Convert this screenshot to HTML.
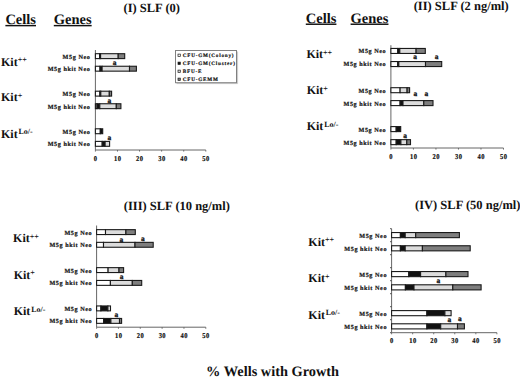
<!DOCTYPE html><html><head><meta charset="utf-8"><style>
html,body{margin:0;padding:0;background:#fff;}
body{width:520px;height:378px;overflow:hidden;}
svg{display:block;}
text{font-family:"Liberation Serif", serif;font-weight:bold;fill:#111;text-rendering:geometricPrecision;}
.t{font-size:12.5px;}.h{font-size:14.5px;text-decoration:underline;}
.k{font-size:12px;}.sup{font-size:8px;}
.g{font-size:6.2px;letter-spacing:0.55px;stroke:#111;stroke-width:0.2px;}.n{font-size:7.4px;letter-spacing:0.55px;stroke:#111;stroke-width:0.2px;}
.lg{font-size:5.2px;letter-spacing:0.78px;stroke:#111;stroke-width:0.18px;}.a{font-size:7.4px;stroke:#111;stroke-width:0.3px;}
</style></head><body>
<svg width="520" height="378" viewBox="0 0 520 378">
<text class="t" x="123.5" y="11.6">(I) SLF (0)</text>
<text class="h" x="5.4" y="23.9">Cells</text>
<text class="h" x="53.8" y="23.9">Genes</text>
<text class="k" x="1" y="65.5">Kit<tspan class="sup" dx="0" dy="-3.4">++</tspan></text>
<text class="k" x="1" y="101.2">Kit<tspan class="sup" dx="0" dy="-3.4">+</tspan></text>
<text class="k" x="1" y="137.5">Kit<tspan class="sup" dx="0.8" dy="-3.3">Lo/-</tspan></text>
<path d="M95.4 50V150H205.8" fill="none" stroke="#666" stroke-width="1"/>
<path d="M95.4 150v1.6" stroke="#555" stroke-width="0.8"/>
<text class="n" transform="translate(95.65 160.55) scale(0.88 1)" text-anchor="middle">0</text>
<path d="M117.48 150v1.6" stroke="#555" stroke-width="0.8"/>
<text class="n" transform="translate(117.73 160.55) scale(0.88 1)" text-anchor="middle">10</text>
<path d="M139.56 150v1.6" stroke="#555" stroke-width="0.8"/>
<text class="n" transform="translate(139.81 160.55) scale(0.88 1)" text-anchor="middle">20</text>
<path d="M161.64 150v1.6" stroke="#555" stroke-width="0.8"/>
<text class="n" transform="translate(161.89 160.55) scale(0.88 1)" text-anchor="middle">30</text>
<path d="M183.72 150v1.6" stroke="#555" stroke-width="0.8"/>
<text class="n" transform="translate(183.97 160.55) scale(0.88 1)" text-anchor="middle">40</text>
<path d="M205.8 150v1.6" stroke="#555" stroke-width="0.8"/>
<text class="n" transform="translate(206.05 160.55) scale(0.88 1)" text-anchor="middle">50</text>
<rect x="95.4" y="53.7" width="4.2" height="4.9" fill="#ffffff" stroke="#1a1a1a" stroke-width="1.1"/>
<rect x="99.6" y="53.7" width="1" height="4.9" fill="#111111" stroke="#1a1a1a" stroke-width="1.1"/>
<rect x="100.6" y="53.7" width="17.6" height="4.9" fill="#dcdcdc" stroke="#1a1a1a" stroke-width="1.1"/>
<rect x="118.2" y="53.7" width="6.5" height="4.9" fill="#7e7e7e" stroke="#1a1a1a" stroke-width="1.1"/>
<text class="g" x="90.35" y="58.55" text-anchor="end">M5g Neo</text>
<rect x="95.4" y="66.25" width="4.6" height="4.9" fill="#ffffff" stroke="#1a1a1a" stroke-width="1.1"/>
<rect x="100" y="66.25" width="2.1" height="4.9" fill="#111111" stroke="#1a1a1a" stroke-width="1.1"/>
<rect x="102.1" y="66.25" width="27.4" height="4.9" fill="#dcdcdc" stroke="#1a1a1a" stroke-width="1.1"/>
<rect x="129.5" y="66.25" width="6.9" height="4.9" fill="#7e7e7e" stroke="#1a1a1a" stroke-width="1.1"/>
<text class="g" x="90.35" y="71.1" text-anchor="end">M5g hkit Neo</text>
<rect x="95.4" y="91.2" width="4.5" height="4.9" fill="#ffffff" stroke="#1a1a1a" stroke-width="1.1"/>
<rect x="99.9" y="91.2" width="0.9" height="4.9" fill="#111111" stroke="#1a1a1a" stroke-width="1.1"/>
<rect x="100.8" y="91.2" width="8.5" height="4.9" fill="#dcdcdc" stroke="#1a1a1a" stroke-width="1.1"/>
<rect x="109.3" y="91.2" width="2.3" height="4.9" fill="#7e7e7e" stroke="#1a1a1a" stroke-width="1.1"/>
<text class="g" x="90.35" y="96.05" text-anchor="end">M5g Neo</text>
<rect x="95.4" y="103.75" width="1.6" height="4.9" fill="#ffffff" stroke="#1a1a1a" stroke-width="1.1"/>
<rect x="97" y="103.75" width="2.8" height="4.9" fill="#111111" stroke="#1a1a1a" stroke-width="1.1"/>
<rect x="99.8" y="103.75" width="16.5" height="4.9" fill="#dcdcdc" stroke="#1a1a1a" stroke-width="1.1"/>
<rect x="116.3" y="103.75" width="4.6" height="4.9" fill="#7e7e7e" stroke="#1a1a1a" stroke-width="1.1"/>
<text class="g" x="90.35" y="108.6" text-anchor="end">M5g hkit Neo</text>
<rect x="95.4" y="128.8" width="4.9" height="4.9" fill="#ffffff" stroke="#1a1a1a" stroke-width="1.1"/>
<rect x="100.3" y="128.8" width="2.4" height="4.9" fill="#111111" stroke="#1a1a1a" stroke-width="1.1"/>
<text class="g" x="90.35" y="133.65" text-anchor="end">M5g Neo</text>
<rect x="95.4" y="141.4" width="6.8" height="4.9" fill="#ffffff" stroke="#1a1a1a" stroke-width="1.1"/>
<rect x="102.2" y="141.4" width="2.9" height="4.9" fill="#111111" stroke="#1a1a1a" stroke-width="1.1"/>
<rect x="105.1" y="141.4" width="4.5" height="4.9" fill="#dcdcdc" stroke="#1a1a1a" stroke-width="1.1"/>
<text class="g" x="90.35" y="146.25" text-anchor="end">M5g hkit Neo</text>
<text class="a" x="114.5" y="65.35" text-anchor="middle">a</text>
<text class="a" x="109.3" y="102.55" text-anchor="middle">a</text>
<text class="a" x="109.4" y="140.15" text-anchor="middle">a</text>
<text class="t" x="413.7" y="10">(II) SLF (2 ng/ml)</text>
<text class="h" x="305.8" y="22.5">Cells</text>
<text class="h" x="350.6" y="22.5">Genes</text>
<text class="k" x="306.4" y="58.2">Kit<tspan class="sup" dx="0" dy="-3.4">++</tspan></text>
<text class="k" x="306.7" y="94.3">Kit<tspan class="sup" dx="0" dy="-3.4">+</tspan></text>
<text class="k" x="306.7" y="130.4">Kit<tspan class="sup" dx="0.8" dy="-3.3">Lo/-</tspan></text>
<path d="M390.9 45.2V148H503.5" fill="none" stroke="#666" stroke-width="1"/>
<path d="M390.9 148v1.6" stroke="#555" stroke-width="0.8"/>
<text class="n" transform="translate(391.15 158.65) scale(0.88 1)" text-anchor="middle">0</text>
<path d="M413.42 148v1.6" stroke="#555" stroke-width="0.8"/>
<text class="n" transform="translate(413.67 158.65) scale(0.88 1)" text-anchor="middle">10</text>
<path d="M435.94 148v1.6" stroke="#555" stroke-width="0.8"/>
<text class="n" transform="translate(436.19 158.65) scale(0.88 1)" text-anchor="middle">20</text>
<path d="M458.46 148v1.6" stroke="#555" stroke-width="0.8"/>
<text class="n" transform="translate(458.71 158.65) scale(0.88 1)" text-anchor="middle">30</text>
<path d="M480.98 148v1.6" stroke="#555" stroke-width="0.8"/>
<text class="n" transform="translate(481.23 158.65) scale(0.88 1)" text-anchor="middle">40</text>
<path d="M503.5 148v1.6" stroke="#555" stroke-width="0.8"/>
<text class="n" transform="translate(503.75 158.65) scale(0.88 1)" text-anchor="middle">50</text>
<rect x="390.9" y="48.45" width="6.9" height="5" fill="#ffffff" stroke="#1a1a1a" stroke-width="1.1"/>
<rect x="397.8" y="48.45" width="2" height="5" fill="#111111" stroke="#1a1a1a" stroke-width="1.1"/>
<rect x="399.8" y="48.45" width="16.3" height="5" fill="#dcdcdc" stroke="#1a1a1a" stroke-width="1.1"/>
<rect x="416.1" y="48.45" width="9.2" height="5" fill="#7e7e7e" stroke="#1a1a1a" stroke-width="1.1"/>
<text class="g" x="386.25" y="53.35" text-anchor="end">M5g Neo</text>
<rect x="390.9" y="61.55" width="6.9" height="5" fill="#ffffff" stroke="#1a1a1a" stroke-width="1.1"/>
<rect x="397.8" y="61.55" width="1" height="5" fill="#111111" stroke="#1a1a1a" stroke-width="1.1"/>
<rect x="398.8" y="61.55" width="26.7" height="5" fill="#dcdcdc" stroke="#1a1a1a" stroke-width="1.1"/>
<rect x="425.5" y="61.55" width="16.2" height="5" fill="#7e7e7e" stroke="#1a1a1a" stroke-width="1.1"/>
<text class="g" x="386.25" y="66.45" text-anchor="end">M5g hkit Neo</text>
<rect x="390.9" y="87.7" width="9.2" height="5" fill="#ffffff" stroke="#1a1a1a" stroke-width="1.1"/>
<rect x="400.1" y="87.7" width="7" height="5" fill="#dcdcdc" stroke="#1a1a1a" stroke-width="1.1"/>
<rect x="407.1" y="87.7" width="2.5" height="5" fill="#7e7e7e" stroke="#1a1a1a" stroke-width="1.1"/>
<text class="g" x="386.25" y="92.6" text-anchor="end">M5g Neo</text>
<rect x="390.9" y="100.6" width="9.2" height="5" fill="#ffffff" stroke="#1a1a1a" stroke-width="1.1"/>
<rect x="400.1" y="100.6" width="2.9" height="5" fill="#111111" stroke="#1a1a1a" stroke-width="1.1"/>
<rect x="403" y="100.6" width="20.8" height="5" fill="#dcdcdc" stroke="#1a1a1a" stroke-width="1.1"/>
<rect x="423.8" y="100.6" width="9.2" height="5" fill="#7e7e7e" stroke="#1a1a1a" stroke-width="1.1"/>
<text class="g" x="386.25" y="105.5" text-anchor="end">M5g hkit Neo</text>
<rect x="390.9" y="126.6" width="5.3" height="5" fill="#ffffff" stroke="#1a1a1a" stroke-width="1.1"/>
<rect x="396.2" y="126.6" width="4.5" height="5" fill="#111111" stroke="#1a1a1a" stroke-width="1.1"/>
<text class="g" x="386.25" y="131.5" text-anchor="end">M5g Neo</text>
<rect x="390.9" y="139.65" width="5.3" height="5" fill="#ffffff" stroke="#1a1a1a" stroke-width="1.1"/>
<rect x="396.2" y="139.65" width="4.7" height="5" fill="#111111" stroke="#1a1a1a" stroke-width="1.1"/>
<rect x="400.9" y="139.65" width="5.9" height="5" fill="#dcdcdc" stroke="#1a1a1a" stroke-width="1.1"/>
<rect x="406.8" y="139.65" width="3.7" height="5" fill="#7e7e7e" stroke="#1a1a1a" stroke-width="1.1"/>
<text class="g" x="386.25" y="144.55" text-anchor="end">M5g hkit Neo</text>
<text class="a" x="415.1" y="59.05" text-anchor="middle">a</text>
<text class="a" x="436.5" y="59.05" text-anchor="middle">a</text>
<text class="a" x="415.4" y="96.35" text-anchor="middle">a</text>
<text class="a" x="426.4" y="96.35" text-anchor="middle">a</text>
<text class="a" x="405.2" y="138.15" text-anchor="middle">a</text>
<text class="t" x="123.75" y="209.5">(III) SLF (10 ng/ml)</text>
<text class="k" x="13.1" y="242.4">Kit<tspan class="sup" dx="0" dy="-3.4">++</tspan></text>
<text class="k" x="13.7" y="278.7">Kit<tspan class="sup" dx="0" dy="-3.4">+</tspan></text>
<text class="k" x="13.7" y="314.8">Kit<tspan class="sup" dx="0.8" dy="-3.3">Lo/-</tspan></text>
<path d="M96.6 225.5V327.2H205.8" fill="none" stroke="#666" stroke-width="1"/>
<path d="M96.6 327.2v1.6" stroke="#555" stroke-width="0.8"/>
<text class="n" transform="translate(96.85 337.95) scale(0.88 1)" text-anchor="middle">0</text>
<path d="M118.44 327.2v1.6" stroke="#555" stroke-width="0.8"/>
<text class="n" transform="translate(118.69 337.95) scale(0.88 1)" text-anchor="middle">10</text>
<path d="M140.28 327.2v1.6" stroke="#555" stroke-width="0.8"/>
<text class="n" transform="translate(140.53 337.95) scale(0.88 1)" text-anchor="middle">20</text>
<path d="M162.12 327.2v1.6" stroke="#555" stroke-width="0.8"/>
<text class="n" transform="translate(162.37 337.95) scale(0.88 1)" text-anchor="middle">30</text>
<path d="M183.96 327.2v1.6" stroke="#555" stroke-width="0.8"/>
<text class="n" transform="translate(184.21 337.95) scale(0.88 1)" text-anchor="middle">40</text>
<path d="M205.8 327.2v1.6" stroke="#555" stroke-width="0.8"/>
<text class="n" transform="translate(206.05 337.95) scale(0.88 1)" text-anchor="middle">50</text>
<rect x="96.6" y="229.65" width="8.9" height="4.9" fill="#ffffff" stroke="#1a1a1a" stroke-width="1.1"/>
<rect x="105.5" y="229.65" width="20.4" height="4.9" fill="#dcdcdc" stroke="#1a1a1a" stroke-width="1.1"/>
<rect x="125.9" y="229.65" width="9.4" height="4.9" fill="#7e7e7e" stroke="#1a1a1a" stroke-width="1.1"/>
<text class="g" x="92.15" y="234.5" text-anchor="end">M5g Neo</text>
<rect x="96.6" y="242.35" width="6.9" height="4.9" fill="#ffffff" stroke="#1a1a1a" stroke-width="1.1"/>
<rect x="103.5" y="242.35" width="31.5" height="4.9" fill="#dcdcdc" stroke="#1a1a1a" stroke-width="1.1"/>
<rect x="135" y="242.35" width="18.2" height="4.9" fill="#7e7e7e" stroke="#1a1a1a" stroke-width="1.1"/>
<text class="g" x="92.15" y="247.2" text-anchor="end">M5g hkit Neo</text>
<rect x="96.6" y="267.65" width="11.5" height="4.9" fill="#ffffff" stroke="#1a1a1a" stroke-width="1.1"/>
<rect x="108.1" y="267.65" width="10.9" height="4.9" fill="#dcdcdc" stroke="#1a1a1a" stroke-width="1.1"/>
<rect x="119" y="267.65" width="4.6" height="4.9" fill="#7e7e7e" stroke="#1a1a1a" stroke-width="1.1"/>
<text class="g" x="92.15" y="272.5" text-anchor="end">M5g Neo</text>
<rect x="96.6" y="280.45" width="13.8" height="4.9" fill="#ffffff" stroke="#1a1a1a" stroke-width="1.1"/>
<rect x="110.4" y="280.45" width="21.9" height="4.9" fill="#dcdcdc" stroke="#1a1a1a" stroke-width="1.1"/>
<rect x="132.3" y="280.45" width="9.4" height="4.9" fill="#7e7e7e" stroke="#1a1a1a" stroke-width="1.1"/>
<text class="g" x="92.15" y="285.3" text-anchor="end">M5g hkit Neo</text>
<rect x="96.6" y="305.95" width="4.3" height="4.9" fill="#ffffff" stroke="#1a1a1a" stroke-width="1.1"/>
<rect x="100.9" y="305.95" width="7" height="4.9" fill="#111111" stroke="#1a1a1a" stroke-width="1.1"/>
<rect x="107.9" y="305.95" width="2.6" height="4.9" fill="#dcdcdc" stroke="#1a1a1a" stroke-width="1.1"/>
<text class="g" x="92.15" y="310.8" text-anchor="end">M5g Neo</text>
<rect x="96.6" y="318.45" width="7.1" height="4.9" fill="#ffffff" stroke="#1a1a1a" stroke-width="1.1"/>
<rect x="103.7" y="318.45" width="7.2" height="4.9" fill="#111111" stroke="#1a1a1a" stroke-width="1.1"/>
<rect x="110.9" y="318.45" width="8.6" height="4.9" fill="#dcdcdc" stroke="#1a1a1a" stroke-width="1.1"/>
<rect x="119.5" y="318.45" width="2.1" height="4.9" fill="#7e7e7e" stroke="#1a1a1a" stroke-width="1.1"/>
<text class="g" x="92.15" y="323.3" text-anchor="end">M5g hkit Neo</text>
<text class="a" x="121.3" y="241.75" text-anchor="middle">a</text>
<text class="a" x="142.9" y="241.35" text-anchor="middle">a</text>
<text class="a" x="121.7" y="279.25" text-anchor="middle">a</text>
<text class="a" x="116.4" y="317.25" text-anchor="middle">a</text>
<text class="t" x="415" y="208.9">(IV) SLF (50 ng/ml)</text>
<text class="k" x="308.3" y="245.8">Kit<tspan class="sup" dx="0" dy="-3.4">++</tspan></text>
<text class="k" x="308.3" y="282.1">Kit<tspan class="sup" dx="0" dy="-3.4">+</tspan></text>
<text class="k" x="308.3" y="318.7">Kit<tspan class="sup" dx="0.8" dy="-3.3">Lo/-</tspan></text>
<path d="M391.6 228.7V332.7H496.9" fill="none" stroke="#666" stroke-width="1"/>
<path d="M390 228.7H391.6" stroke="#444" stroke-width="0.9"/>
<path d="M390 241.7H391.6" stroke="#444" stroke-width="0.9"/>
<path d="M390 254.7H391.6" stroke="#444" stroke-width="0.9"/>
<path d="M390 267.7H391.6" stroke="#444" stroke-width="0.9"/>
<path d="M390 280.7H391.6" stroke="#444" stroke-width="0.9"/>
<path d="M390 293.7H391.6" stroke="#444" stroke-width="0.9"/>
<path d="M390 306.7H391.6" stroke="#444" stroke-width="0.9"/>
<path d="M390 319.7H391.6" stroke="#444" stroke-width="0.9"/>
<path d="M390 332.7H391.6" stroke="#444" stroke-width="0.9"/>
<path d="M391.6 332.7v1.6" stroke="#555" stroke-width="0.8"/>
<text class="n" transform="translate(391.85 342.95) scale(0.88 1)" text-anchor="middle">0</text>
<path d="M412.66 332.7v1.6" stroke="#555" stroke-width="0.8"/>
<text class="n" transform="translate(412.91 342.95) scale(0.88 1)" text-anchor="middle">10</text>
<path d="M433.72 332.7v1.6" stroke="#555" stroke-width="0.8"/>
<text class="n" transform="translate(433.97 342.95) scale(0.88 1)" text-anchor="middle">20</text>
<path d="M454.78 332.7v1.6" stroke="#555" stroke-width="0.8"/>
<text class="n" transform="translate(455.03 342.95) scale(0.88 1)" text-anchor="middle">30</text>
<path d="M475.84 332.7v1.6" stroke="#555" stroke-width="0.8"/>
<text class="n" transform="translate(476.09 342.95) scale(0.88 1)" text-anchor="middle">40</text>
<path d="M496.9 332.7v1.6" stroke="#555" stroke-width="0.8"/>
<text class="n" transform="translate(497.15 342.95) scale(0.88 1)" text-anchor="middle">50</text>
<rect x="391.6" y="232.55" width="8.8" height="5.1" fill="#ffffff" stroke="#1a1a1a" stroke-width="1.1"/>
<rect x="400.4" y="232.55" width="4.8" height="5.1" fill="#111111" stroke="#1a1a1a" stroke-width="1.1"/>
<rect x="405.2" y="232.55" width="10.5" height="5.1" fill="#dcdcdc" stroke="#1a1a1a" stroke-width="1.1"/>
<rect x="415.7" y="232.55" width="43.7" height="5.1" fill="#7e7e7e" stroke="#1a1a1a" stroke-width="1.1"/>
<text class="g" x="387.05" y="237.5" text-anchor="end">M5g Neo</text>
<rect x="391.6" y="245.75" width="8.8" height="5.1" fill="#ffffff" stroke="#1a1a1a" stroke-width="1.1"/>
<rect x="400.4" y="245.75" width="4.8" height="5.1" fill="#111111" stroke="#1a1a1a" stroke-width="1.1"/>
<rect x="405.2" y="245.75" width="17.2" height="5.1" fill="#dcdcdc" stroke="#1a1a1a" stroke-width="1.1"/>
<rect x="422.4" y="245.75" width="47.8" height="5.1" fill="#7e7e7e" stroke="#1a1a1a" stroke-width="1.1"/>
<text class="g" x="387.05" y="250.7" text-anchor="end">M5g hkit Neo</text>
<rect x="391.6" y="271.55" width="17.2" height="5.1" fill="#ffffff" stroke="#1a1a1a" stroke-width="1.1"/>
<rect x="408.8" y="271.55" width="11.8" height="5.1" fill="#111111" stroke="#1a1a1a" stroke-width="1.1"/>
<rect x="420.6" y="271.55" width="25.3" height="5.1" fill="#dcdcdc" stroke="#1a1a1a" stroke-width="1.1"/>
<rect x="445.9" y="271.55" width="22.1" height="5.1" fill="#7e7e7e" stroke="#1a1a1a" stroke-width="1.1"/>
<text class="g" x="387.05" y="276.5" text-anchor="end">M5g Neo</text>
<rect x="391.6" y="284.8" width="13.8" height="5.1" fill="#ffffff" stroke="#1a1a1a" stroke-width="1.1"/>
<rect x="405.4" y="284.8" width="8.6" height="5.1" fill="#111111" stroke="#1a1a1a" stroke-width="1.1"/>
<rect x="414" y="284.8" width="38.8" height="5.1" fill="#dcdcdc" stroke="#1a1a1a" stroke-width="1.1"/>
<rect x="452.8" y="284.8" width="28.3" height="5.1" fill="#7e7e7e" stroke="#1a1a1a" stroke-width="1.1"/>
<text class="g" x="387.05" y="289.75" text-anchor="end">M5g hkit Neo</text>
<rect x="391.6" y="310.6" width="35.3" height="5.1" fill="#ffffff" stroke="#1a1a1a" stroke-width="1.1"/>
<rect x="426.9" y="310.6" width="18" height="5.1" fill="#111111" stroke="#1a1a1a" stroke-width="1.1"/>
<rect x="444.9" y="310.6" width="6.2" height="5.1" fill="#dcdcdc" stroke="#1a1a1a" stroke-width="1.1"/>
<text class="g" x="387.05" y="315.55" text-anchor="end">M5g Neo</text>
<rect x="391.6" y="323.8" width="35.3" height="5.1" fill="#ffffff" stroke="#1a1a1a" stroke-width="1.1"/>
<rect x="426.9" y="323.8" width="13.8" height="5.1" fill="#111111" stroke="#1a1a1a" stroke-width="1.1"/>
<rect x="440.7" y="323.8" width="16.8" height="5.1" fill="#dcdcdc" stroke="#1a1a1a" stroke-width="1.1"/>
<rect x="457.5" y="323.8" width="6.9" height="5.1" fill="#7e7e7e" stroke="#1a1a1a" stroke-width="1.1"/>
<text class="g" x="387.05" y="328.75" text-anchor="end">M5g hkit Neo</text>
<text class="a" x="438.4" y="282.95" text-anchor="middle">a</text>
<text class="a" x="449.4" y="321.85" text-anchor="middle">a</text>
<text class="a" x="459.8" y="320.95" text-anchor="middle">a</text>
<path d="M237.6 51.5V83.6H176.5" fill="none" stroke="#c8c8c8" stroke-width="1"/>
<rect x="175.5" y="50.5" width="61" height="32.2" fill="#fff" stroke="#808080" stroke-width="1"/>
<rect x="178.0" y="54.1" width="2.3" height="2.4" fill="#ffffff" stroke="#1a1a1a" stroke-width="0.7"/>
<text class="lg" x="182.8" y="57">CFU-GM(Colony)</text>
<rect x="178.0" y="62.1" width="2.3" height="2.4" fill="#111111" stroke="#1a1a1a" stroke-width="0.7"/>
<text class="lg" x="182.8" y="65">CFU-GM(Cluster)</text>
<rect x="178.0" y="70.1" width="2.3" height="2.4" fill="#dcdcdc" stroke="#1a1a1a" stroke-width="0.7"/>
<text class="lg" x="182.8" y="73">BFU-E</text>
<rect x="178.0" y="78.1" width="2.3" height="2.4" fill="#7e7e7e" stroke="#1a1a1a" stroke-width="0.7"/>
<text class="lg" x="182.8" y="81">CFU-GEMM</text>
<text x="206.1" y="376.3" style="font-size:14.35px">% Wells with Growth</text>
</svg></body></html>
